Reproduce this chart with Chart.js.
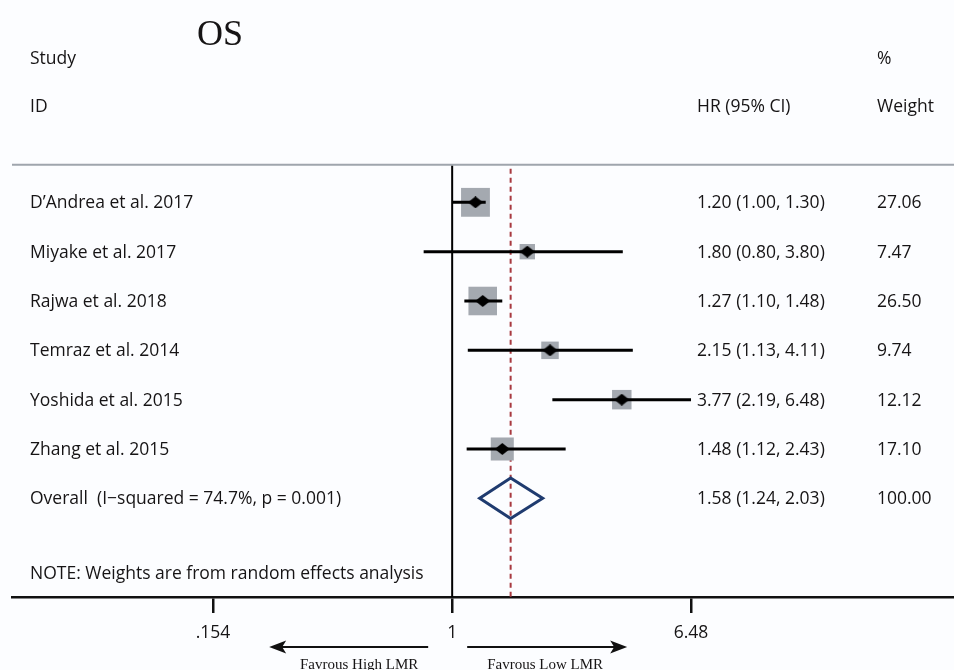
<!DOCTYPE html>
<html>
<head>
<meta charset="utf-8">
<script src="https://cdn.jsdelivr.net/npm/chart.js@4/dist/chart.umd.min.js"></script>
<style>
  html, body { margin: 0; padding: 0; background: #fcfdff; }
  #wrap { width: 954px; height: 670px; }
</style>
</head>
<body>
<div id="wrap"><canvas id="forest" width="954" height="670"></canvas></div>
<script>
// Study rows
const studies = ['D’Andrea et al. 2017', 'Miyake et al. 2017', 'Rajwa et al. 2018',
                 'Temraz et al. 2014', 'Yoshida et al. 2015', 'Zhang et al. 2015'];
const hr      = [1.20, 1.80, 1.27, 2.15, 3.77, 1.48];
const ciLow   = [1.00, 0.80, 1.10, 1.13, 2.19, 1.12];
const ciHigh  = [1.30, 3.80, 1.48, 4.11, 6.48, 2.43];
const weights = [27.06, 7.47, 26.50, 9.74, 12.12, 17.10];

// Pooled estimate (random effects)
const overallLabel  = 'Overall  (I\u2212squared = 74.7%, p = 0.001)';
const overallHR     = 1.58;
const overallLow    = 1.24;
const overallHigh   = 2.03;
const overallWeight = 100.00;

// Axis ticks
const xTicks      = [0.154, 1, 6.48];
const xTickLabels = ['.154', '1', '6.48'];

const X_MIN = 0.03194, X_MAX = 50.72;
const SANS = '"Open Sans", "Liberation Sans", sans-serif';
const SERIF = '"Liberation Serif", "DejaVu Serif", serif';
const INK = '#161415';

const fmt = v => v.toFixed(2);
const overallRow = studies.length;

// small black diamond used as the point marker
const dot = document.createElement('canvas');
dot.width = 15; dot.height = 12;
(() => {
  const c = dot.getContext('2d');
  c.fillStyle = '#000';
  c.beginPath();
  c.moveTo(0, 6); c.lineTo(7.5, 0); c.lineTo(15, 6); c.lineTo(7.5, 12);
  c.closePath(); c.fill();
})();

const datasets = [];

// point estimates (top-most)
datasets.push({
  data: hr.map((v, i) => ({ x: v, y: i })),
  pointStyle: dot, pointRadius: 7, showLine: false, order: 0
});

// confidence intervals
studies.forEach((s, i) => {
  datasets.push({
    data: [{ x: ciLow[i], y: i }, { x: ciHigh[i], y: i }],
    showLine: true, borderColor: '#000', borderWidth: 3, pointRadius: 0,
    borderCapStyle: 'butt', order: 1
  });
});

// weight boxes
datasets.push({
  data: hr.map((v, i) => ({ x: v, y: i })),
  pointStyle: 'rect',
  pointRadius: weights.map(w => (5.45 * Math.sqrt(w) + 0.5) / Math.SQRT2),
  backgroundColor: '#a4a9b0', pointBorderWidth: 0, borderWidth: 0,
  showLine: false, order: 2
});

// pooled diamond
datasets.push({
  data: [
    { x: overallHR, y: overallRow - 0.41 },
    { x: overallHigh, y: overallRow },
    { x: overallHR, y: overallRow + 0.41 },
    { x: overallLow, y: overallRow },
    { x: overallHR, y: overallRow - 0.41 },
    { x: overallHigh, y: overallRow }
  ],
  showLine: true, borderColor: '#1f3b6f', borderWidth: 3, pointRadius: 0,
  borderJoinStyle: 'miter', fill: false, tension: 0, order: 0
});

// null line at HR = 1
datasets.push({
  data: [{ x: 1, y: -0.74 }, { x: 1, y: 8 }],
  showLine: true, borderColor: '#000', borderWidth: 2, pointRadius: 0, order: 3
});

// pooled estimate reference line
datasets.push({
  data: [{ x: overallHR, y: -0.68 }, { x: overallHR, y: 8 }],
  showLine: true, borderColor: '#a83a40', borderWidth: 2, borderDash: [5, 4],
  pointRadius: 0, order: 4
});

// header rule
datasets.push({
  data: [{ x: X_MIN, y: -0.76 }, { x: X_MAX, y: -0.76 }],
  showLine: true, borderColor: '#9fa5ad', borderWidth: 2, pointRadius: 0, order: 5
});

function drawArrow(ctx, xFrom, xTo, y) {
  const dir = Math.sign(xTo - xFrom);
  ctx.beginPath();
  ctx.moveTo(xFrom, y);
  ctx.lineTo(xTo - dir * 10, y);
  ctx.stroke();
  ctx.beginPath();
  ctx.moveTo(xTo, y);
  ctx.lineTo(xTo - dir * 17, y - 6.5);
  ctx.lineTo(xTo - dir * 13, y);
  ctx.lineTo(xTo - dir * 17, y + 6.5);
  ctx.closePath();
  ctx.fill();
}

const tablePlugin = {
  id: 'forestTable',
  beforeDraw(chart) {
    const ctx = chart.ctx;
    ctx.save();
    ctx.fillStyle = '#fcfdff';
    ctx.fillRect(0, 0, chart.width, chart.height);
    ctx.restore();
  },
  afterDraw(chart) {
    const ctx = chart.ctx;
    const ys = chart.scales.y, xs = chart.scales.x;
    const rowY = r => ys.getPixelForValue(r);
    ctx.save();
    ctx.fillStyle = INK;
    ctx.textAlign = 'left';

    // title
    ctx.font = '36px ' + SERIF;
    ctx.textBaseline = 'alphabetic';
    ctx.fillText('OS', 197, 45);

    ctx.textBaseline = 'middle';
    ctx.font = '500 17.5px ' + SANS;
    // column headers
    ctx.fillText('Study', 30, rowY(-2.9));
    ctx.fillText('ID', 30, rowY(-1.93));
    ctx.fillText('HR (95% CI)', 697, rowY(-1.93));
    ctx.fillText('%', 877, rowY(-2.9));
    ctx.fillText('Weight', 877, rowY(-1.93));

    // study rows
    studies.forEach((s, i) => {
      const y = rowY(i) + 1;
      ctx.fillText(s, 30, y);
      ctx.fillText(`${fmt(hr[i])} (${fmt(ciLow[i])}, ${fmt(ciHigh[i])})`, 697, y);
      ctx.fillText(fmt(weights[i]), 877, y);
    });
    const yo = rowY(overallRow) + 1;
    ctx.fillText(overallLabel, 30, yo);
    ctx.fillText(`${fmt(overallHR)} (${fmt(overallLow)}, ${fmt(overallHigh)})`, 697, yo);
    ctx.fillText(fmt(overallWeight), 877, yo);

    ctx.fillText('NOTE: Weights are from random effects analysis', 30, rowY(7.53));

    // direction arrows
    const x1 = xs.getPixelForValue(1);
    ctx.strokeStyle = '#111';
    ctx.fillStyle = '#111';
    ctx.lineWidth = 2;
    drawArrow(ctx, x1 - 24, x1 - 183, 647);
    drawArrow(ctx, x1 + 15, x1 + 175, 647);

    ctx.fillStyle = INK;
    ctx.font = '15px ' + SERIF;
    ctx.textAlign = 'center';
    ctx.textBaseline = 'alphabetic';
    ctx.fillText('Favrous High LMR', x1 - 93, 669);
    ctx.fillText('Favrous Low LMR', x1 + 93, 669);
    ctx.restore();
  }
};

new Chart(document.getElementById('forest'), {
  type: 'scatter',
  data: { datasets },
  options: {
    responsive: false,
    animation: false,
    devicePixelRatio: 1,
    events: [],
    layout: { autoPadding: false, padding: { left: 12, right: 0, top: 5, bottom: 0 } },
    plugins: { legend: { display: false }, tooltip: { enabled: false } },
    scales: {
      x: {
        type: 'logarithmic',
        position: 'bottom',
        min: X_MIN,
        max: X_MAX,
        bounds: 'data',
        afterBuildTicks: s => { s.ticks = xTicks.map(v => ({ value: v })); },
        afterFit: s => { s.height = 73; s.paddingLeft = 0; s.paddingRight = 0; },
        ticks: {
          autoSkip: false,
          maxRotation: 0,
          padding: 10,
          color: INK,
          font: { family: SANS, size: 17.5, weight: '500' },
          callback: v => {
            const k = xTicks.findIndex(t => Math.abs(t - v) < 1e-9);
            return k >= 0 ? xTickLabels[k] : '';
          }
        },
        grid: { drawOnChartArea: false, drawTicks: true, tickLength: 16, color: '#111', lineWidth: 2.5 },
        border: { display: true, color: '#111', width: 2.5 }
      },
      y: { type: 'linear', reverse: true, min: -4, max: 8, display: false }
    }
  },
  plugins: [tablePlugin]
});
</script>
</body>
</html>
